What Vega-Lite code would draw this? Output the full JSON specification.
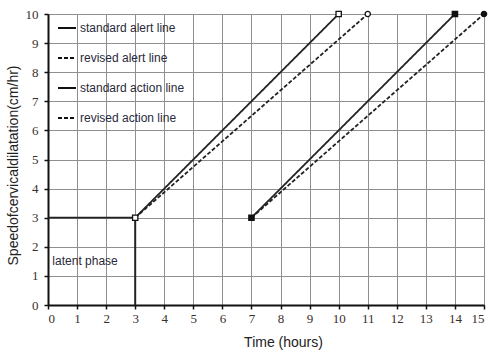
{
  "$schema": "https://vega.github.io/schema/vega-lite/v6.json",
  "autosize": "none",
  "width": 436,
  "height": 291,
  "padding": {"left": 48, "top": 14, "right": 7, "bottom": 47},
  "background": "white",
  "config": {
    "view": {"stroke": "#555", "strokeWidth": 1},
    "axis": {
      "grid": true,
      "gridColor": "#8f8f8f",
      "gridWidth": 1,
      "gridOpacity": 1,
      "domainColor": "#111",
      "domainWidth": 2,
      "tickColor": "#111",
      "tickSize": 4,
      "tickWidth": 1.5,
      "labelFont": "Liberation Serif",
      "labelFontSize": 13,
      "labelColor": "#3a2f2a",
      "labelOverlap": false,
      "titleFont": "Liberation Sans",
      "titleFontSize": 14,
      "titleFontWeight": "normal",
      "titleColor": "#222"
    }
  },
  "encoding": {
    "x": {
      "field": "t", "type": "quantitative",
      "scale": {"domain": [0, 15], "nice": false},
      "axis": {"values": [0,1,2,3,4,5,6,7,8,9,10,11,12,13,14,15], "title": "Time (hours)", "labelPadding": 3, "titleX": 235, "titleY": 30, "titleBaseline": "top", "titleAnchor": "middle"}
    },
    "y": {
      "field": "v", "type": "quantitative",
      "scale": {"domain": [0, 10], "nice": false},
      "axis": {"values": [0,1,2,3,4,5,6,7,8,9,10], "title": "Speedofcervicaldilatation(cm/hr)", "labelPadding": 6, "titleX": -28, "titleY": 151, "titleAnchor": "middle", "titleAngle": -90, "titleBaseline": "bottom"}
    }
  },
  "layer": [
    {
      "data": {"values": [{"t": 3, "v": 0}, {"t": 3, "v": 3}]},
      "mark": {"type": "line", "color": "#222", "strokeWidth": 2},
      "encoding": {}
    },
    {
      "data": {"values": [
        {"series": "standard alert line", "t": 0, "v": 3, "o": 1},
        {"series": "standard alert line", "t": 3, "v": 3, "o": 2},
        {"series": "standard alert line", "t": 10, "v": 10, "o": 3},
        {"series": "revised alert line", "t": 3, "v": 3, "o": 1},
        {"series": "revised alert line", "t": 11, "v": 10, "o": 2},
        {"series": "standard action line", "t": 7, "v": 3, "o": 1},
        {"series": "standard action line", "t": 14, "v": 10, "o": 2},
        {"series": "revised action line", "t": 7, "v": 3, "o": 1},
        {"series": "revised action line", "t": 15, "v": 10, "o": 2}
      ]},
      "mark": {"type": "line", "color": "#222", "strokeWidth": 1.8},
      "encoding": {
        "detail": {"field": "series"},
        "order": {"field": "o"},
        "strokeDash": {
          "field": "series", "type": "nominal",
          "scale": {
            "domain": ["standard alert line", "revised alert line", "standard action line", "revised action line"],
            "range": [[1, 0], [4, 2], [1, 0], [4, 2]]
          },
          "legend": {
            "title": null,
            "orient": "none",
            "legendX": 9,
            "legendY": 4,
            "padding": 0,
            "symbolSize": 324,
            "symbolOffset": 0,
            "symbolStrokeWidth": 1.8,
            "symbolStrokeColor": "#111",
            "labelOffset": 3,
            "rowPadding": 14,
            "labelFont": "Liberation Sans",
            "labelFontSize": 12,
            "labelColor": "#2a2a3a",
            "labelLimit": 300
          }
        }
      }
    },
    {
      "data": {"values": [
        {"marker": "open square", "t": 10, "v": 10},
        {"marker": "open circle", "t": 11, "v": 10},
        {"marker": "filled square", "t": 7, "v": 3},
        {"marker": "filled square", "t": 14, "v": 10},
        {"marker": "filled circle", "t": 15, "v": 10},
        {"marker": "open square", "t": 3, "v": 3}
      ]},
      "mark": {"type": "point", "filled": true, "stroke": "#111", "strokeWidth": 1.3, "size": 28, "opacity": 1},
      "encoding": {
        "shape": {
          "field": "marker", "type": "nominal",
          "scale": {
            "domain": ["open square", "open circle", "filled square", "filled circle"],
            "range": ["square", "circle", "square", "circle"]
          },
          "legend": null
        },
        "fill": {
          "field": "marker", "type": "nominal",
          "scale": {
            "domain": ["open square", "open circle", "filled square", "filled circle"],
            "range": ["white", "white", "#111", "#111"]
          },
          "legend": null
        }
      }
    },
    {
      "data": {"values": [{"t": 0.15, "v": 1.5, "label": "latent phase"}]},
      "mark": {"type": "text", "align": "left", "baseline": "middle", "font": "Liberation Sans", "fontSize": 12, "color": "#2a2a3a"},
      "encoding": {
        "text": {"field": "label"}
      }
    }
  ]
}
